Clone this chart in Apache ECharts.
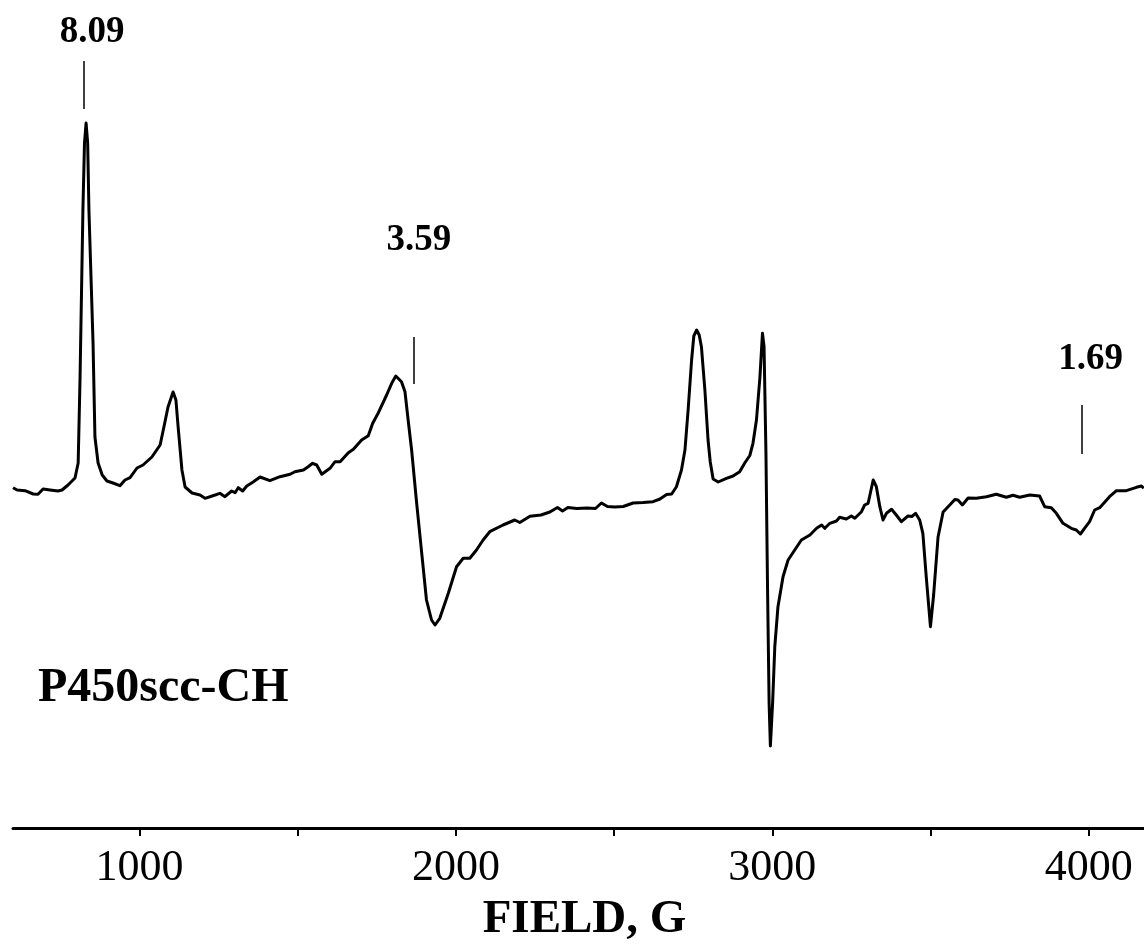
<!DOCTYPE html>
<html>
<head>
<meta charset="utf-8">
<title>P450scc-CH EPR</title>
<script src="https://cdn.jsdelivr.net/npm/echarts@6/dist/echarts.min.js"></script>
<style>
  * { margin: 0; padding: 0; }
  html, body { background: #fff; }
</style>
</head>
<body>
<div id="main" style="width: 1144px; height: 948px;"></div>
<script>
// magnetic field, G
var field = [
  600, 613, 638, 664, 679, 695, 717, 742, 755, 774, 796, 806, 812, 821, 826, 831, 836, 840, 853, 859,
  869, 882, 897, 916, 938, 954, 970, 992, 1011, 1039, 1065, 1077, 1090, 1106, 1115, 1122, 1134, 1144, 1166, 1191,
  1207, 1232, 1254, 1270, 1291, 1302, 1312, 1326, 1339, 1359, 1381, 1412, 1444, 1476, 1491, 1518, 1533, 1547, 1560, 1576,
  1602, 1618, 1634, 1660, 1676, 1702, 1723, 1737, 1755, 1781, 1797, 1810, 1828, 1839, 1849, 1860, 1876, 1892, 1907, 1923,
  1934, 1949, 1976, 2002, 2023, 2044, 2065, 2086, 2107, 2149, 2186, 2202, 2234, 2269, 2297, 2321, 2337, 2354, 2382, 2414,
  2441, 2460, 2479, 2502, 2529, 2560, 2592, 2623, 2645, 2666, 2682, 2697, 2713, 2724, 2734, 2745, 2752, 2761, 2769, 2776,
  2787, 2797, 2804, 2813, 2829, 2855, 2876, 2897, 2913, 2929, 2939, 2950, 2961, 2969, 2974, 2980, 2985, 2990, 2994, 3001,
  3008, 3018, 3034, 3050, 3071, 3092, 3119, 3140, 3156, 3166, 3182, 3203, 3213, 3234, 3250, 3261, 3282, 3292, 3303, 3319,
  3329, 3340, 3350, 3361, 3377, 3392, 3408, 3429, 3441, 3453, 3466, 3476, 3487, 3500, 3510, 3524, 3540, 3561, 3577, 3587,
  3601, 3619, 3645, 3677, 3708, 3740, 3761, 3782, 3814, 3845, 3861, 3882, 3898, 3919, 3945, 3961, 3974, 3987, 4003, 4019,
  4035, 4066, 4088, 4119, 4151, 4167, 4174
];
// EPR signal, arbitrary units
var signal = [
  2.3, 0, -0.7, -4, -4.3, 1, 0, -1, 0, 5, 12, 27, 113, 280, 347, 367, 347, 280, 147, 53,
  27, 15, 9, 7, 4.3, 10, 12.3, 22, 25, 33, 45, 63, 83, 98, 90, 63, 20, 3, -3, -5,
  -8.3, -5.7, -3.3, -6.7, -1, -2.7, 2.3, -1, 4, 8, 13, 9.3, 13.3, 15.7, 18.3, 20, 23.3, 26.7, 25, 15.7,
  21.7, 28.3, 28.3, 37.3, 40.7, 50, 54.3, 66.7, 77.3, 95, 106.7, 114, 108.3, 98.3, 70, 40, -13.3, -63.3, -110, -130,
  -135, -128.3, -103.3, -76.7, -68.3, -68.3, -60, -50, -41.7, -35, -30, -32.5, -26.3, -25, -22, -17.5, -21, -17.5, -18.5, -18,
  -18.5, -13, -16.5, -17, -16.5, -13, -12.5, -11.7, -9, -4.5, -4, 3.3, 20, 40, 80, 130, 154, 160, 155, 143.3,
  100, 50, 28, 11, 8, 11.7, 14, 18.3, 27, 34.5, 46.7, 70, 113, 156.7, 143.3, 37, -96.7, -213.3, -256, -213.3,
  -156.7, -116.7, -86.7, -70, -60, -50, -45, -38.3, -35, -38.3, -33.3, -31, -27.3, -29, -26, -28.3, -21.7, -15, -13.3, 10,
  3.3, -16.7, -30, -23.3, -19.3, -25, -31.7, -26, -26.5, -23.3, -30, -43.3, -88, -136.7, -105, -47, -22, -15, -9.5, -10,
  -15, -8, -8.3, -6.7, -4.3, -7.3, -5.3, -7.3, -5, -6, -16.7, -17.7, -23.3, -33.3, -38.3, -40, -44, -38.3, -31.7, -20,
  -17.7, -6.7, -0.7, -0.7, 2.7, 4, 1.7
];

// axis ticks
var tickValues = [1000, 1500, 2000, 2500, 3000, 3500, 4000];
var labelValues = [1000, 2000, 3000, 4000];

// g-value markers: field, bottom and top of the short line
var gField = [824, 1868, 3979];
var gLineLow = [381, 106, 36];
var gLineHigh = [429, 153, 85];
// g-value text and where it sits
var gText = ['8.09', '3.59', '1.69'];
var gTextField = [850, 1883, 4006];
var gTextY = [458, 250, 131];

var sampleName = 'P450scc-CH';
var sampleField = 679;
var sampleY = -199;

var serif = "'Liberation Serif', 'Times New Roman', serif";

var spectrum = field.map(function (f, i) { return [f, signal[i]]; });

var markLines = gField.map(function (f, i) {
  return [{ coord: [f, gLineLow[i]] }, { coord: [f, gLineHigh[i]] }];
});

// text labels drawn as invisible points
var textPoints = gText.map(function (t, i) {
  return { value: [gTextField[i], gTextY[i]], name: t,
    label: { fontSize: 37, align: 'center', color: '#000' } };
});
textPoints.push({ value: [sampleField, sampleY], name: sampleName,
  label: { fontSize: 48, align: 'left', color: '#000' } });

var chart = echarts.init(document.getElementById('main'));
chart.setOption({
  animation: false,
  backgroundColor: '#fff',
  grid: { left: 13, right: 0, top: 0, bottom: 120, containLabel: false },
  xAxis: {
    type: 'value',
    min: 600,
    max: 4175,
    name: 'FIELD, G',
    nameLocation: 'middle',
    nameGap: 68,
    nameTextStyle: {
      fontFamily: serif, fontSize: 47, fontWeight: 'bold', color: '#000',
      padding: [0, 0, 0, 12]
    },
    axisLine: { show: true, onZero: false, lineStyle: { color: '#000', width: 3 } },
    axisTick: { show: true, length: 8, customValues: tickValues, lineStyle: { color: '#000', width: 2 } },
    axisLabel: {
      customValues: labelValues, margin: 18,
      formatter: function (v) { return String(v); },
      fontFamily: serif, fontSize: 44, color: '#000'
    },
    splitLine: { show: false }
  },
  yAxis: {
    type: 'value',
    min: -338,
    max: 490,
    show: false,
    splitLine: { show: false }
  },
  series: [
    {
      name: 'spectrum',
      type: 'line',
      data: spectrum,
      showSymbol: false,
      smooth: false,
      lineStyle: { color: '#000', width: 3, join: 'round' },
      markLine: {
        silent: true,
        symbol: 'none',
        label: { show: false },
        lineStyle: { color: '#000', width: 1.5, type: 'solid' },
        data: markLines
      }
    },
    {
      name: 'labels',
      type: 'scatter',
      symbolSize: 0,
      silent: true,
      data: textPoints,
      itemStyle: { color: '#000', opacity: 1 },
      label: {
        show: true,
        position: [0, 0],
        verticalAlign: 'middle',
        formatter: '{b}',
        fontFamily: serif,
        fontWeight: 'bold',
        color: '#000',
        textBorderWidth: 0
      },
      labelLayout: { hideOverlap: false }
    }
  ]
});
</script>
</body>
</html>
